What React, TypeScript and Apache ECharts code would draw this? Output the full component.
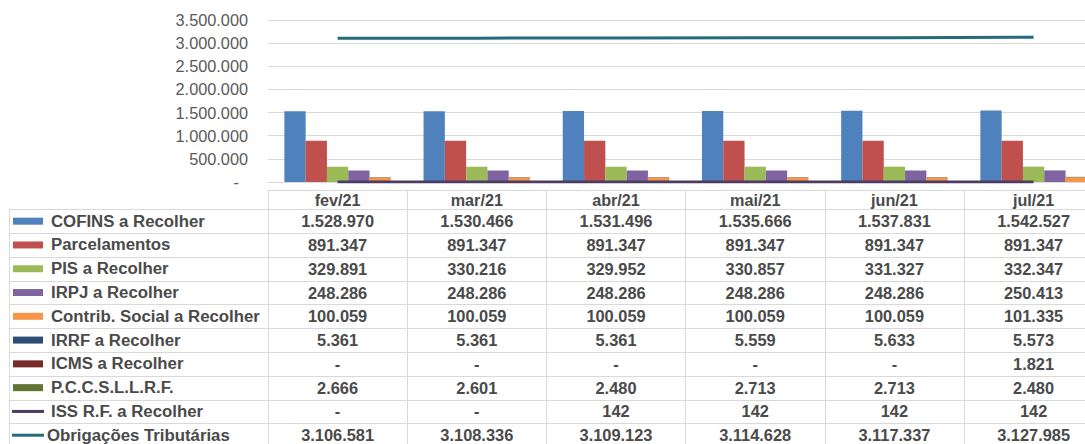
import React, { useEffect, useRef } from "react";
import * as echarts from "echarts";

const categories = ["fev/21", "mar/21", "abr/21", "mai/21", "jun/21", "jul/21"];
const cofins = [1528970, 1530466, 1531496, 1535666, 1537831, 1542527];
const parcelamentos = [891347, 891347, 891347, 891347, 891347, 891347];
const pis = [329891, 330216, 329952, 330857, 331327, 332347];
const irpj = [248286, 248286, 248286, 248286, 248286, 250413];
const contrib = [100059, 100059, 100059, 100059, 100059, 101335];
const irrf = [5361, 5361, 5361, 5559, 5633, 5573];
const icms = [0, 0, 0, 0, 0, 1821];
const pcc = [2666, 2601, 2480, 2713, 2713, 2480];
const iss = [0, 0, 142, 142, 142, 142];
const obrigacoes = [3106581, 3108336, 3109123, 3114628, 3117337, 3127985];

const yTicks = { min: 0, max: 3500000, interval: 500000 };

const seriesDefs = [
  { name: "COFINS a Recolher", data: cofins, kind: "bar", color: "#4F81BD" },
  { name: "Parcelamentos", data: parcelamentos, kind: "bar", color: "#C0504D" },
  { name: "PIS a Recolher", data: pis, kind: "bar", color: "#9BBB59" },
  { name: "IRPJ a Recolher", data: irpj, kind: "bar", color: "#8064A2" },
  { name: "Contrib. Social a Recolher", data: contrib, kind: "bar", color: "#F79646", stack: "c" },
  { name: "IRRF a Recolher", data: irrf, kind: "bar", color: "#2C4D75", stack: "c" },
  { name: "ICMS a Recolher", data: icms, kind: "bar", color: "#772C2A", stack: "c" },
  { name: "P.C.C.S.L.L.R.F.", data: pcc, kind: "bar", color: "#5F7530", stack: "c" },
  { name: "ISS R.F. a Recolher", data: iss, kind: "line", color: "#4D3B62" },
  { name: "Obrigações Tributárias", data: obrigacoes, kind: "line", color: "#276A7C" },
];

const FONT = "'Liberation Sans', Arial, sans-serif";
const TXT = "#4A4A4A";
const GRIDC = "#D9D9D9";

const fmt = (v: number) =>
  !v ? "-" : String(Math.round(v)).replace(/\B(?=(\d{3})+(?!\d))/g, ".");

const GRID_LEFT = 268;
const GRID_TOP = 20;
const GRID_BOTTOM_Y = 182;
const CAT_W = 139.2;
const CHART_W = 1110;
const CHART_H = 444;
const HEADER_TOP = 190.5;
const ROW_TOP = 209.3;
const ROW_H = 23.78;

export default function App() {
  const ref = useRef<HTMLDivElement>(null);
  useEffect(() => {
    if (!ref.current) return;
    const chart = echarts.init(ref.current, null, { renderer: "svg" });
    const gridW = CAT_W * categories.length;

    const xAxes: any[] = [
      {
        type: "category",
        data: categories,
        gridIndex: 0,
        axisLine: { show: true, lineStyle: { color: GRIDC, width: 1 } },
        axisTick: { show: false },
        axisLabel: { show: false },
      },
      {
        type: "category",
        data: categories,
        gridIndex: 0,
        position: "bottom",
        offset: HEADER_TOP - GRID_BOTTOM_Y,
        axisLine: { show: true, lineStyle: { color: GRIDC, width: 1 } },
        axisTick: { show: true, interval: 0, length: 300, lineStyle: { color: GRIDC, width: 1 } },
        axisLabel: {
          show: true,
          interval: 0,
          margin: (ROW_TOP + HEADER_TOP) / 2 - HEADER_TOP,
          verticalAlign: "middle",
          fontFamily: FONT,
          fontSize: 16.2,
          fontWeight: "bold",
          color: TXT,
        },
      },
    ];
    seriesDefs.forEach((s, r) => {
      xAxes.push({
        type: "category",
        data: categories,
        gridIndex: 0,
        position: "bottom",
        offset: 0,
        axisLine: { show: false },
        axisTick: { show: false },
        axisLabel: {
          show: true,
          interval: 0,
          margin: ROW_TOP + r * ROW_H + ROW_H / 2 - GRID_BOTTOM_Y,
          verticalAlign: "middle",
          fontFamily: FONT,
          fontSize: 16.4,
          fontWeight: "bold",
          color: TXT,
          formatter: (_v: string, i: number) => fmt(s.data[i]),
        },
      });
    });

    const series: any[] = seriesDefs.map((s) =>
      s.kind === "bar"
        ? {
            name: s.name,
            type: "bar",
            data: s.data,
            stack: (s as any).stack,
            barWidth: 21.3,
            barGap: "0%",
            itemStyle: { color: s.color },
            xAxisIndex: 0,
          }
        : {
            name: s.name,
            type: "line",
            data: s.data,
            symbol: "none",
            xAxisIndex: 0,
            lineStyle: { color: s.color, width: 3 },
            itemStyle: { color: s.color },
            z: 5,
          }
    );

    const graphics: any[] = [];
    for (let i = 0; i < seriesDefs.length; i++) {
      const y = Math.round(ROW_TOP + i * ROW_H) + 0.5;
      graphics.push({
        type: "line",
        shape: { x1: 9, y1: y, x2: CHART_W, y2: y },
        style: { stroke: GRIDC, lineWidth: 1 },
      });
    }
    graphics.push({
      type: "line",
      shape: { x1: 9.5, y1: Math.round(ROW_TOP) + 0.5, x2: 9.5, y2: CHART_H },
      style: { stroke: GRIDC, lineWidth: 1 },
    });
    seriesDefs.forEach((s, i) => {
      const cy = ROW_TOP + i * ROW_H + ROW_H / 2;
      if (s.kind === "bar") {
        graphics.push({
          type: "rect",
          shape: { x: 13, y: cy - 3.5, width: 30, height: 7 },
          style: { fill: s.color },
        });
      } else {
        graphics.push({
          type: "line",
          shape: { x1: 12, y1: cy, x2: 44, y2: cy },
          style: { stroke: s.color, lineWidth: 3 },
        });
      }
      graphics.push({
        type: "text",
        x: i === seriesDefs.length - 1 ? 47 : 51,
        y: cy,
        style: {
          text: s.name,
          fontFamily: FONT,
          fontSize: 16.8,
          fontWeight: "bold",
          fill: TXT,
          verticalAlign: "middle",
          align: "left",
        },
      });
    });

    chart.setOption({
      animation: false,
      grid: {
        left: GRID_LEFT,
        top: GRID_TOP,
        width: gridW,
        height: GRID_BOTTOM_Y - GRID_TOP,
        containLabel: false,
      },
      xAxis: xAxes,
      yAxis: {
        type: "value",
        min: yTicks.min,
        max: yTicks.max,
        interval: yTicks.interval,
        axisLine: { show: false },
        axisTick: { show: false },
        splitLine: { lineStyle: { color: GRIDC, width: 1 } },
        axisLabel: {
          margin: 20,
          fontFamily: FONT,
          fontSize: 16.3,
          color: "#595959",
          formatter: (v: number) => (v === 0 ? "{z|-}" : fmt(v)),
          rich: { z: { padding: [0, 9, 0, 0], fontFamily: FONT, fontSize: 16.3, color: "#595959" } },
        },
      },
      series,
      graphic: graphics,
    });
    return () => chart.dispose();
  }, []);

  return (
    <div
      style={{
        position: "fixed",
        left: 0,
        top: 0,
        width: 1085,
        height: 444,
        overflow: "hidden",
        background: "#fff",
      }}
    >
      <div ref={ref} style={{ width: CHART_W, height: CHART_H }} />
    </div>
  );
}
